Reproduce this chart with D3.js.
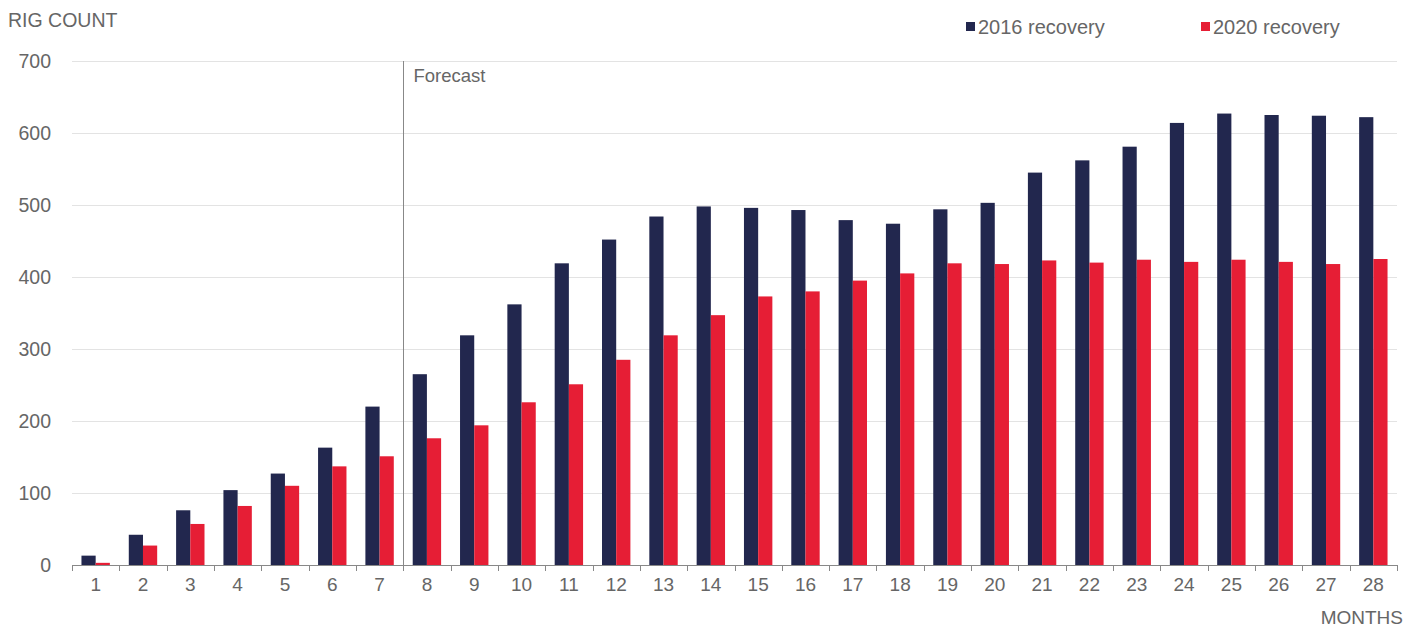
<!DOCTYPE html>
<html>
<head>
<meta charset="utf-8">
<script src="https://cdn.jsdelivr.net/npm/d3@7"></script>
<style>
  html, body { margin: 0; padding: 0; background: #fff; }
  svg text { font-family: "Liberation Sans", Arial, sans-serif; fill: #666; }
</style>
</head>
<body>
<svg id="chart" width="1418" height="628"></svg>
<script>
const months = [1,2,3,4,5,6,7,8,9,10,11,12,13,14,15,16,17,18,19,20,21,22,23,24,25,26,27,28];
const recovery2016 = [13,42,76,104,127,163,220,265,319,362,419,452,484,498,496,493,479,474,494,503,545,562,581,614,627,625,624,622];
const recovery2020 = [3,27,57,82,110,137,151,176,194,226,251,285,319,347,373,380,395,405,419,418,423,420,424,421,424,421,418,425];
const yTicks = [0,100,200,300,400,500,600,700];
const seriesNames = ["2016 recovery", "2020 recovery"];
const seriesColors = ["#22274e", "#e61e35"];
const forecastStartMonth = 8;

const svg = d3.select("#chart");
const x0 = 72, x1 = 1397, yTop = 61, yBot = 565;

const x = d3.scaleBand().domain(months).range([x0, x1]).paddingInner(0.4).paddingOuter(0.2);
const xs = d3.scaleBand().domain([0,1]).range([0, x.bandwidth()]);
const y = d3.scaleLinear().domain([0, 700]).range([yBot, yTop]);
const step = x.step();

// gridlines
svg.append("g").selectAll("line").data(yTicks.filter(d => d > 0)).join("line")
  .attr("x1", x0).attr("x2", x1)
  .attr("y1", d => y(d) + 0.5).attr("y2", d => y(d) + 0.5)
  .attr("stroke", "#e3e3e3").attr("stroke-width", 1.2);

// y labels
svg.append("g").selectAll("text").data(yTicks).join("text")
  .attr("x", 51).attr("y", d => y(d)).attr("dy", "0.36em")
  .attr("text-anchor", "end").attr("font-size", 19.5)
  .text(d => d);

// bars
const groups = svg.append("g").selectAll("g").data(months).join("g")
  .attr("transform", d => `translate(${x(d)},0)`);
[recovery2016, recovery2020].forEach((vals, si) => {
  groups.append("rect")
    .attr("x", xs(si)).attr("width", xs.bandwidth())
    .attr("y", (d, i) => y(vals[i]))
    .attr("height", (d, i) => yBot - y(vals[i]))
    .attr("fill", seriesColors[si]);
});

// forecast line
const fxr = Math.round(x(forecastStartMonth) - (step - x.bandwidth()) / 2) + 0.5;
svg.append("line").attr("x1", fxr).attr("x2", fxr).attr("y1", yTop).attr("y2", yBot)
  .attr("stroke", "#888").attr("stroke-width", 1);
svg.append("text").attr("x", fxr + 10).attr("y", 82).attr("font-size", 18.5).text("Forecast");

// x axis
const xAxis = d3.axisBottom(x).tickSize(0).tickPadding(10);
const axG = svg.append("g").attr("transform", `translate(0,${yBot})`).call(xAxis);
axG.select(".domain").remove();
axG.selectAll("text").attr("font-size", 19).attr("fill", "#666")
  .style("font-family", '"Liberation Sans", Arial, sans-serif').attr("dy", "0.85em");
svg.append("line").attr("x1", x0).attr("x2", x1).attr("y1", yBot + 0.5).attr("y2", yBot + 0.5)
  .attr("stroke", "#888").attr("stroke-width", 1.2);
const boundaries = d3.range(months.length + 1).map(i => x0 + i * step);
svg.append("g").selectAll("line").data(boundaries).join("line")
  .attr("x1", d => Math.round(d) + 0.5).attr("x2", d => Math.round(d) + 0.5)
  .attr("y1", yBot).attr("y2", yBot + 6)
  .attr("stroke", "#888").attr("stroke-width", 1);

// axis titles
svg.append("text").attr("x", 8).attr("y", 27).attr("font-size", 19.5).text("RIG COUNT");
svg.append("text").attr("x", 1403).attr("y", 624).attr("text-anchor", "end").attr("font-size", 19).text("MONTHS");

// legend
const legendX = [966, 1201];
seriesNames.forEach((name, i) => {
  svg.append("rect").attr("x", legendX[i]).attr("y", 22).attr("width", 9).attr("height", 9).attr("fill", seriesColors[i]);
  svg.append("text").attr("x", legendX[i] + 12).attr("y", 34).attr("font-size", 20).text(name);
});
</script>
</body>
</html>
